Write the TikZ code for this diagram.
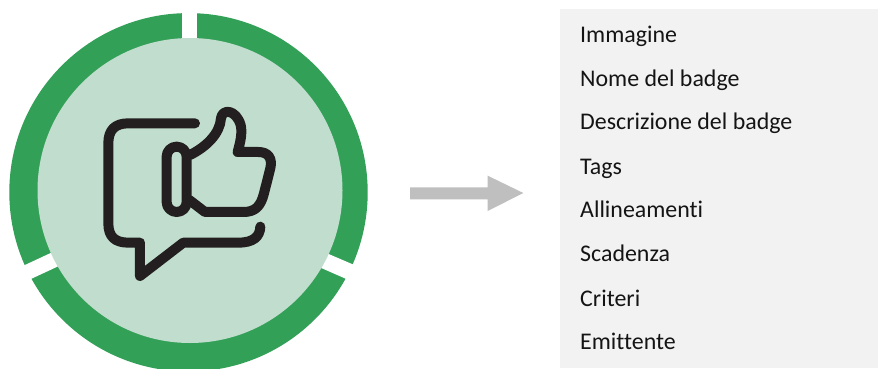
\documentclass[tikz,border=0pt]{standalone}
\usepackage{fontspec}
\setmainfont[Ligatures=NoCommon]{Carlito}
\definecolor{ringgreen}{HTML}{33A058}
\definecolor{discgreen}{HTML}{C0DDCD}
\definecolor{inkdark}{HTML}{231F20}
\definecolor{arrowgrey}{HTML}{BFBFBF}
\definecolor{panelgrey}{HTML}{F2F2F2}
\tikzset{
  item/.style={anchor=base west,inner sep=0pt,text=black!92,font=\fontsize{23.9}{26}\selectfont},
  iconline/.style={draw=inkdark,line width=10pt,line cap=round,line join=round},
  gapcut/.style={fill=white,draw=none}
}
\begin{document}
\begin{tikzpicture}[x=1pt,y=-1pt]
\useasboundingbox (0,0) rectangle (878,369);
\fill[white] (0,0) rectangle (878,369);
\begin{scope}
\clip (0,0) rectangle (878,369);
\fill[ringgreen] (188.5,192.3) circle[radius=179.2pt];
\fill[gapcut] (181.7,0) rectangle (197,60);
\fill[gapcut] (12,271) -- (70,244) -- (76,258) -- (18,285) -- cycle;
\fill[gapcut] (366,270) -- (310,246) -- (303,260) -- (360,285) -- cycle;
\fill[discgreen] (190,190.5) circle[radius=152.5pt];
\end{scope}
\begin{scope}[shift={(90,90)},x=0.3333pt,y=-0.3333pt]
\draw[iconline] (315,100) -- (115,100) .. controls (75,100) and (55,120) .. (55,160)
  -- (55,400) .. controls (55,440) and (75,458) .. (115,458) -- (150,458) -- (150,558)
  -- (280,458) -- (445,458) .. controls (490,458) and (510,440) .. (511,410);
\draw[iconline,rounded corners=9.9pt] (230,170) rectangle (290,366);
\draw[iconline] (300,195) .. controls (350,170) and (390,130) .. (393,85)
  .. controls (397,55) and (438,58) .. (452,105)
  .. controls (458,130) and (450,160) .. (443,186) -- (505,186)
  .. controls (535,186) and (548,205) .. (541,235) -- (522,310)
  .. controls (512,350) and (495,366) .. (460,366) -- (345,366) -- (298,330);
\end{scope}
\fill[arrowgrey] (410,187.3) -- (487.7,187.3) -- (487.7,175.7) -- (523.3,193)
  -- (487.7,211) -- (487.7,199.3) -- (410,199.3) -- cycle;
\fill[panelgrey] (560,9) rectangle (878,368);
\node[item] (n1) at (580,42.5) {Immagine};
\node[item] (n2) at (580,86.5) {Nome del badge};
\node[item] (n3) at (580,129.8) {Descrizione del badge};
\node[item] (n4) at (580,174.1) {Tags};
\node[item] (n5) at (580,217.8) {Allineamenti};
\node[item] (n6) at (580,261.8) {Scadenza};
\node[item] (n7) at (580,306.5) {Criteri};
\node[item] (n8) at (580,349.8) {Emittente};
\end{tikzpicture}
\end{document}
